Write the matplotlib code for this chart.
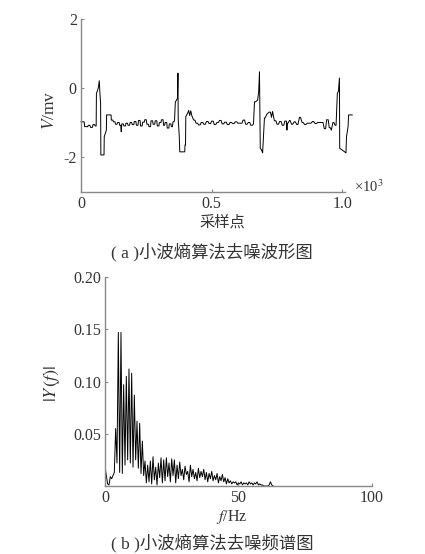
import matplotlib
matplotlib.use("Agg")
import matplotlib.pyplot as plt
import numpy as np

plt.rcParams['font.family'] = ['Liberation Serif', 'Noto Sans CJK SC', 'DejaVu Sans']
plt.rcParams['mathtext.fontset'] = 'stix'

# ---------------- data: denoised waveform (sample index, mV) ----------------
wave_x = [0, 12, 14, 26, 28, 34, 36, 44, 46, 52, 54, 58,
          59, 62, 66, 70, 72, 75, 76, 88, 89, 97, 98, 107,
          115, 116, 122, 124, 130, 132, 138, 140, 146, 148, 152, 154, 156, 162, 164,
          170, 172, 178, 180, 186, 188, 194, 196, 202, 204, 210, 212, 218, 220, 226,
          228, 234, 236, 242, 244, 250, 252, 258, 260, 266, 268, 274, 276, 282, 284,
          290, 292, 298, 300, 306, 308, 314, 316, 320, 322, 328, 330, 336, 338, 344,
          346, 350, 352, 356, 358,
          361, 365, 369, 371, 372, 376, 378, 384, 397, 398, 400, 401, 408, 412, 416,
          420, 424, 431, 436, 440, 446, 450, 456, 460, 466, 470, 476, 480, 486, 490,
          496, 500, 506, 510, 516, 520, 526, 530, 536, 540, 546, 550, 556, 560, 566,
          570, 576, 580, 586, 590, 596, 600, 606, 610, 616, 620, 626, 630, 636, 640,
          646, 650, 656, 660,
          664, 668, 676, 680, 683, 686, 690, 695, 702, 704, 712, 720, 725, 729, 733,
          740, 746, 750, 756, 760, 766, 770, 776, 780, 786, 788, 790, 792, 798, 800,
          806, 810, 816, 820, 826, 830, 836, 840, 846, 850, 856, 860, 866, 870, 876,
          880, 886, 890, 896, 900, 906, 910, 916, 920, 926, 931, 936, 940, 946, 950,
          954, 958, 964, 968, 972, 976,
          981, 985, 989, 990, 1000, 1014, 1016, 1022, 1024, 1027, 1038]
wave_y = [-0.98, -0.98, -1.12, -1.12, -1.08, -1.08, -1.14, -1.14, -1.06, -1.06, -1.10, -1.10,
          -0.15, -0.10, 0.00, 0.21, -0.10, -0.44, -1.94, -1.94, -1.41, -1.22, -0.78, -0.78,
          -0.78, -0.93, -0.93, -0.98, -0.98, -1.05, -1.05, -1.00, -1.00, -1.08, -1.08, -1.27, -1.04, -1.04, -1.10,
          -1.10, -1.02, -1.02, -1.08, -1.08, -1.00, -1.00, -1.06, -1.06, -0.97, -0.97, -1.08, -1.08, -0.94, -0.94,
          -1.10, -1.10, -0.99, -0.99, -0.92, -0.92, -1.05, -1.05, -1.12, -1.12, -0.95, -0.95, -1.05, -1.05, -0.95,
          -0.95, -1.10, -1.10, -1.00, -1.00, -0.92, -0.92, -1.08, -1.08, -1.00, -1.00, -1.16, -1.16, -1.04, -1.04,
          -1.12, -1.12, -0.98, -0.98, -0.92,
          -0.40, -0.36, -0.30, 0.43, -0.90, -1.40, -1.85, -1.85, -1.85, -1.65, -1.65, -0.83, -0.73, -0.65, -0.80,
          -0.66, -0.80, -0.93, -0.93, -1.02, -1.02, -1.07, -1.07, -1.00, -1.00, -1.05, -1.05, -0.97, -0.97, -1.03,
          -1.03, -0.96, -0.96, -1.06, -1.06, -1.00, -1.00, -0.94, -0.94, -1.04, -1.04, -0.99, -0.99, -1.06, -1.06,
          -1.00, -1.00, -1.03, -1.03, -0.98, -0.98, -1.02, -1.02, -1.02, -1.02, -0.93, -0.93, -1.05, -1.05, -1.00,
          -1.00, -1.08, -1.08, -1.04,
          -0.40, -0.40, -0.35, -0.10, 0.47, -1.75, -1.78, -1.88, -0.87, -0.87, -0.75, -0.70, -0.70, -0.85, -0.68,
          -0.95, -0.95, -1.05, -1.05, -0.97, -0.97, -1.08, -1.08, -0.96, -0.96, -1.22, -1.02, -1.02, -0.94, -0.94,
          -1.05, -1.05, -0.98, -0.98, -1.06, -1.06, -0.85, -0.85, -1.00, -1.00, -1.06, -1.06, -1.02, -1.02, -1.02,
          -1.02, -0.97, -0.97, -1.03, -1.03, -1.00, -1.00, -1.00, -1.00, -1.00, -1.18, -1.18, -0.92, -0.92, -1.15,
          -1.15, -1.22, -1.00, -1.00, -1.08, -1.08,
          -0.15, -0.10, 0.29, -1.75, -1.80, -1.88, -1.41, -1.12, -0.78, -0.78, -0.78]

# ---------------- data: spectrum ----------------
freq_step_hz = 0.5
spec_amp = [0.019, 0.010, 0.002, 0.001, 0.009, 0.007, 0.010, 0.013,
            0.055, 0.022, 0.147, 0.013, 0.147, 0.012, 0.097, 0.020,
            0.105, 0.025, 0.112, 0.022, 0.108, 0.018, 0.087, 0.025,
            0.062, 0.017, 0.060, 0.012, 0.043, 0.010, 0.024, 0.003,
            0.020, 0.004, 0.024, 0.002, 0.028, 0.006, 0.018, 0.001,
            0.022, 0.008, 0.027, 0.003, 0.025, 0.005, 0.027, 0.009,
            0.022, 0.004, 0.026, 0.010, 0.025, 0.003, 0.020, 0.007,
            0.023, 0.010, 0.016, 0.006, 0.019, 0.011, 0.014, 0.004,
            0.020, 0.009, 0.016, 0.007, 0.013, 0.005, 0.017, 0.008,
            0.014, 0.009, 0.016, 0.006, 0.013, 0.004, 0.012, 0.007,
            0.014, 0.005, 0.010, 0.006, 0.012, 0.003, 0.009, 0.005,
            0.011, 0.004, 0.008, 0.002, 0.007, 0.003, 0.005, 0.002,
            0.004, 0.003, 0.004, 0.001, 0.003, 0.002, 0.004, 0.001,
            0.003, 0.002, 0.003, 0.001, 0.004, 0.002, 0.003, 0.001,
            0.003, 0.002, 0.004, 0.001, 0.002, 0.001, 0.001, 0.000,
            0.000, 0.000, 0.000, 0.001, 0.004, 0.001, 0.000]
spec_f = np.arange(len(spec_amp)) * freq_step_hz

top_yticks = [-2, 0, 2]
top_xticks = [0, 0.5, 1.0]
top_xticklabels = ['0', '0.5', '1.0']
bot_yticks = [0.05, 0.10, 0.15, 0.20]
bot_yticklabels = ['0.05', '0.10', '0.15', '0.20']
bot_xticks = [0, 50, 100]

text_col = '#333333'
spine_col = '#888888'

fig = plt.figure(figsize=(4.25, 5.54), dpi=100)

def style(ax):
    for s in ['top', 'right']:
        ax.spines[s].set_visible(False)
    for s in ['left', 'bottom']:
        ax.spines[s].set_color(spine_col)
        ax.spines[s].set_linewidth(1.0)
    ax.tick_params(direction='in', length=2.5, width=0.8, color=spine_col,
                   labelsize=11.5, labelcolor=text_col, pad=3)

# ---- top: waveform ----
ax1 = fig.add_axes([0.1906, 0.6543, 0.621, 0.3114])
ax1.plot(np.array(wave_x) / 1000.0, wave_y, color='black', lw=0.7, clip_on=False)
ax1.set_xlim(0, 1.01)
ax1.set_ylim(-3, 2)
ax1.set_yticks(top_yticks)
ax1.set_yticklabels(['-2', '0', '2'])
ax1.set_xticks(top_xticks)
ax1.set_xticklabels(top_xticklabels)
style(ax1)
fig.text(50/425, 1 - 110/554, '$V$/mv', fontsize=12.5, color=text_col,
         rotation=90, ha='center', va='center')
fig.text(354/425, 1 - 187/554, '×10$^3$', fontsize=10.5, color=text_col,
         ha='left', va='center')
fig.text(222/425, 1 - 222/554, '采样点', fontsize=11, color=text_col,
         ha='center', va='center')
fig.text(212/425, 1 - 252/554, '( a )小波熵算法去噪波形图', fontsize=12.5,
         color=text_col, ha='center', va='center')

# ---- bottom: spectrum ----
ax2 = fig.add_axes([0.247, 0.1227, 0.628, 0.3773])
ax2.plot(spec_f, spec_amp, color='black', lw=0.7)
ax2.set_xlim(0, 100)
ax2.set_ylim(0, 0.20)
ax2.set_yticks(bot_yticks)
ax2.set_yticklabels(bot_yticklabels)
ax2.set_xticks(bot_xticks)
style(ax2)
fig.text(52/425, 1 - 383/554, '$|Y\\,(f)|$', fontsize=13, color=text_col,
         rotation=90, ha='center', va='center')
fig.text(232/425, 1 - 517/554, '$f$/Hz', fontsize=11.5, color=text_col,
         ha='center', va='center')
fig.text(212/425, 1 - 543/554, '( b )小波熵算法去噪频谱图', fontsize=12.5,
         color=text_col, ha='center', va='center')

fig.savefig('out.png', dpi=100)
